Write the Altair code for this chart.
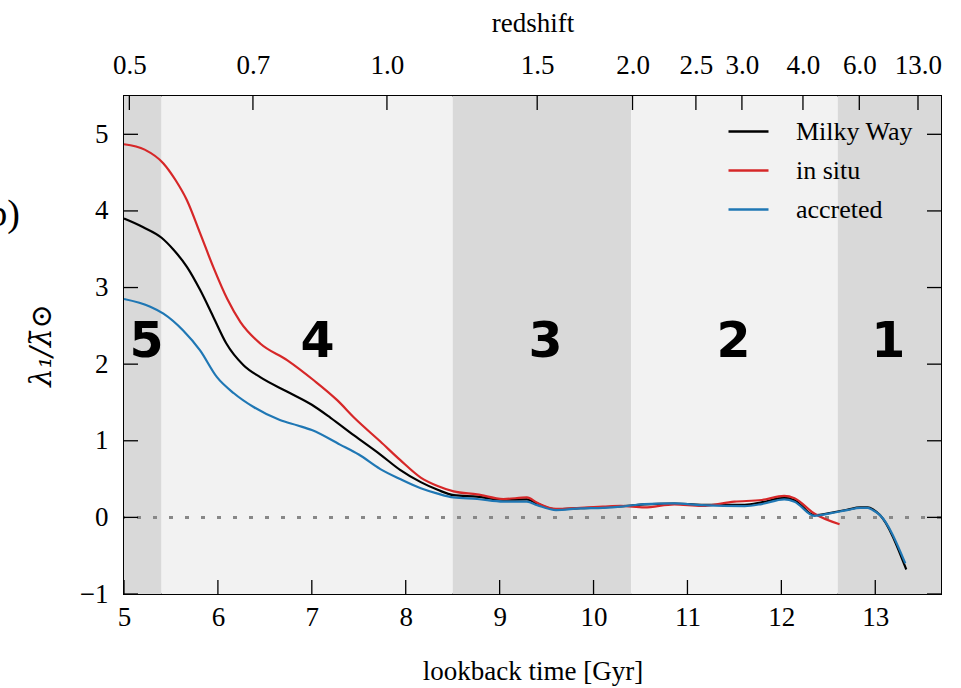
import altair as alt
import pandas as pd

# --- series: lambda_1 / mean solar lambda versus lookback time [Gyr] ---
mw_t = [5.00, 5.20, 5.40, 5.53, 5.67, 5.81, 5.95, 6.09, 6.27, 6.45, 6.74, 7.00,
        7.20, 7.45, 7.73, 7.94, 8.16, 8.34, 8.51, 8.76, 9.04, 9.29, 9.40, 9.60, 9.86,
        10.10, 10.40, 10.54, 10.86, 11.15, 11.61, 11.80, 12.03, 12.14, 12.35, 12.53,
        12.70, 12.84, 12.92, 12.98, 13.05, 13.33]
mw_v = [3.90, 3.79, 3.65, 3.49, 3.27, 2.97, 2.62, 2.27, 1.99, 1.83, 1.64, 1.47,
        1.30, 1.07, 0.82, 0.62, 0.46, 0.36, 0.29, 0.27, 0.23, 0.235, 0.18, 0.105, 0.12,
        0.13, 0.155, 0.17, 0.18, 0.165, 0.165, 0.20, 0.255, 0.225, 0.03, 0.06,
        0.10, 0.13, 0.13, 0.10, 0.03, -0.68]

insitu_t = [5.00, 5.22, 5.42, 5.55, 5.67, 5.81, 5.95, 6.10, 6.24, 6.45, 6.74, 7.02, 7.27,
            7.46, 7.73, 7.94, 8.16, 8.34, 8.51, 8.76, 9.04, 9.29, 9.40, 9.60, 9.86, 10.10,
            10.29, 10.54, 10.86, 11.15, 11.50, 11.79, 12.03, 12.14, 12.35, 12.62]
insitu_v = [4.87, 4.80, 4.62, 4.40, 4.14, 3.71, 3.27, 2.85, 2.55, 2.27, 2.05, 1.79, 1.53,
            1.29, 0.99, 0.75, 0.52, 0.41, 0.34, 0.30, 0.24, 0.26, 0.19, 0.11, 0.126, 0.14,
            0.15, 0.13, 0.17, 0.15, 0.205, 0.227, 0.28, 0.25, 0.05, -0.09]

acc_t = [5.00, 5.28, 5.42, 5.63, 5.81, 5.99, 6.17, 6.38, 6.66, 6.85, 7.00, 7.30, 7.50,
         7.73, 7.94, 8.16, 8.34, 8.51, 8.76, 9.04, 9.29, 9.40, 9.60, 9.86, 10.10, 10.29,
         10.54, 10.86, 11.15, 11.61, 11.79, 12.03, 12.14, 12.35, 12.53, 12.70, 12.84,
         12.92, 12.98, 13.05, 13.32]
acc_v = [2.85, 2.75, 2.66, 2.44, 2.18, 1.83, 1.62, 1.44, 1.27, 1.20, 1.14, 0.95, 0.82,
         0.63, 0.50, 0.38, 0.31, 0.26, 0.24, 0.205, 0.205, 0.16, 0.096, 0.118, 0.125, 0.14,
         0.174, 0.183, 0.16, 0.148, 0.174, 0.235, 0.205, 0.02, 0.055, 0.095, 0.125,
         0.125, 0.09, 0.03, -0.60]

series_names = ["Milky Way", "in situ", "accreted"]
series_colors = ["black", "#d62728", "#1f77b4"]

# --- evolutionary phases (shaded bands) ---
phase_labels = ["5", "4", "3", "2", "1"]
phase_label_t = [5.24, 7.06, 9.49, 11.49, 13.14]
phase_start = [5.0, 5.4, 8.5, 10.4, 12.6]
phase_end = [5.4, 8.5, 10.4, 12.6, 13.7]
phase_shade = ["dark", "light", "dark", "light", "dark"]

# --- axes ---
x_ticks = [5, 6, 7, 8, 9, 10, 11, 12, 13]
y_ticks = [-1, 0, 1, 2, 3, 4, 5]
z_labels = ["0.5", "0.7", "1.0", "1.5", "2.0", "2.5", "3.0", "4.0", "6.0", "13.0"]
z_lookback = [5.057, 6.373, 7.80, 9.40, 10.415, 11.09, 11.58, 12.23, 12.83, 13.455]

W, H = 817, 498
TICK = 14
SERIF = "Liberation Serif"

xs = alt.Scale(domain=[5, 13.7], nice=False, zero=False)
ys = alt.Scale(domain=[-1, 5.5], nice=False, zero=False)

y_axis = alt.Axis(values=y_ticks, ticks=False, domain=False, grid=False, format="d",
                  labelFont=SERIF, labelFontSize=27, labelColor="black",
                  labelPadding=16, titleFont="DejaVu Serif", titleFontSize=29,
                  titleFontStyle="italic", titleFontWeight="normal",
                  titleColor="black", titlePadding=23)
Y_TITLE = "λ₁/λ̄⊙"

lines_df = pd.concat([
    pd.DataFrame({"t": mw_t, "v": mw_v, "series": series_names[0]}),
    pd.DataFrame({"t": insitu_t, "v": insitu_v, "series": series_names[1]}),
    pd.DataFrame({"t": acc_t, "v": acc_v, "series": series_names[2]}),
], ignore_index=True)

phases_df = pd.DataFrame({
    "label": phase_labels,
    "label_t": phase_label_t,
    "start": phase_start,
    "end": phase_end,
    "shade": phase_shade,
})

xticks_df = pd.DataFrame({"t": x_ticks})
yticks_df = pd.DataFrame({"v": y_ticks})
z_df = pd.DataFrame({"t": z_lookback, "z": z_labels})

# shaded bands carry the bottom axis
bands = alt.Chart(phases_df).mark_rect().encode(
    x=alt.X("start:Q", scale=xs, title="lookback time [Gyr]",
            axis=alt.Axis(values=x_ticks, ticks=False, domain=False, grid=False,
                          labelFlush=False,
                          labelFont=SERIF, labelFontSize=27, labelColor="black",
                          labelPadding=10, titleFont=SERIF, titleFontSize=27,
                          titleFontWeight="normal", titleColor="black",
                          titlePadding=28, format="d")),
    x2="end:Q",
    y=alt.value(0),
    y2=alt.value(H),
    color=alt.Color("shade:N", legend=None,
                    scale=alt.Scale(domain=["dark", "light"],
                                    range=["#d9d9d9", "#f2f2f2"])),
)

zero_line = alt.Chart(yticks_df).mark_rule(
    color="#888888", strokeWidth=2.5, strokeDash=[4, 12]
).encode(y=alt.datum(0, scale=ys))

phase_text = alt.Chart(phases_df).mark_text(
    font="DejaVu Sans", fontWeight="bold", fontSize=49, baseline="alphabetic",
    align="center", color="black"
).encode(
    x=alt.X("label_t:Q", scale=xs, axis=None),
    y=alt.datum(2.09, scale=ys),
    text="label:N",
)

curves = alt.Chart(lines_df).mark_line(strokeWidth=2.2, interpolate="monotone").encode(
    x=alt.X("t:Q", scale=xs, axis=None),
    y=alt.Y("v:Q", scale=ys, title=Y_TITLE, axis=y_axis),
    color=alt.Color(
        "series:N",
        scale=alt.Scale(domain=series_names, range=series_colors),
        legend=alt.Legend(orient="none", legendX=603, legendY=14, title=None,
                          symbolType="stroke", symbolSize=1600, symbolStrokeWidth=2.5,
                          labelFont=SERIF, labelFontSize=26, labelColor="black",
                          labelOffset=26, rowPadding=4, padding=0),
    ),
    detail="series:N",
)

# inward tick marks on all four sides
bottom_ticks = alt.Chart(xticks_df).mark_rule(color="black", strokeWidth=1.3).encode(
    x=alt.X("t:Q", scale=xs, axis=None), y=alt.value(H), y2=alt.value(H - TICK))
left_ticks = alt.Chart(yticks_df).mark_rule(color="black", strokeWidth=1.3).encode(
    y=alt.Y("v:Q", scale=ys, title=Y_TITLE, axis=y_axis),
    x=alt.value(0), x2=alt.value(TICK))
right_ticks = alt.Chart(yticks_df).mark_rule(color="black", strokeWidth=1.3).encode(
    y=alt.Y("v:Q", scale=ys, title=Y_TITLE, axis=y_axis),
    x=alt.value(W), x2=alt.value(W - TICK))

# redshift ticks with the top axis
z_expr = "{}[indexof({}, datum.value)]".format(
    "[" + ",".join("'" + s + "'" for s in z_labels) + "]",
    "[" + ",".join(repr(v) for v in z_lookback) + "]",
)
top_ticks = alt.Chart(z_df).mark_rule(color="black", strokeWidth=1.3).encode(
    x=alt.X("t:Q", scale=xs, title="redshift",
            axis=alt.Axis(orient="top", values=z_lookback, labelExpr=z_expr,
                          ticks=False, domain=False, grid=False, labelFlush=False,
                          labelFont=SERIF, labelFontSize=27, labelColor="black",
                          labelPadding=17, labelOverlap=False,
                          titleFont=SERIF, titleFontSize=27, titleFontWeight="normal",
                          titleColor="black", titleY=-65,
                          titleBaseline="alphabetic")),
    y=alt.value(0), y2=alt.value(TICK),
)

panel_tag = alt.Chart(z_df.head(1)).mark_text(
    font=SERIF, fontSize=38, align="right", baseline="middle", color="black"
).encode(x=alt.value(20 - 124), y=alt.value(119), text=alt.value("(b)"))

chart = alt.layer(
    bands, zero_line, phase_text, curves,
    bottom_ticks, left_ticks, right_ticks, top_ticks, panel_tag,
).resolve_axis(x="independent").resolve_scale(color="independent").properties(
    width=W, height=H,
    autosize=alt.AutoSizeParams(type="none"),
    padding={"left": 124, "top": 96, "right": 20, "bottom": 94},
    background="white",
).configure_view(stroke="black", strokeWidth=2)

chart.save("out.html", embed_options={"renderer": "svg", "actions": False})
